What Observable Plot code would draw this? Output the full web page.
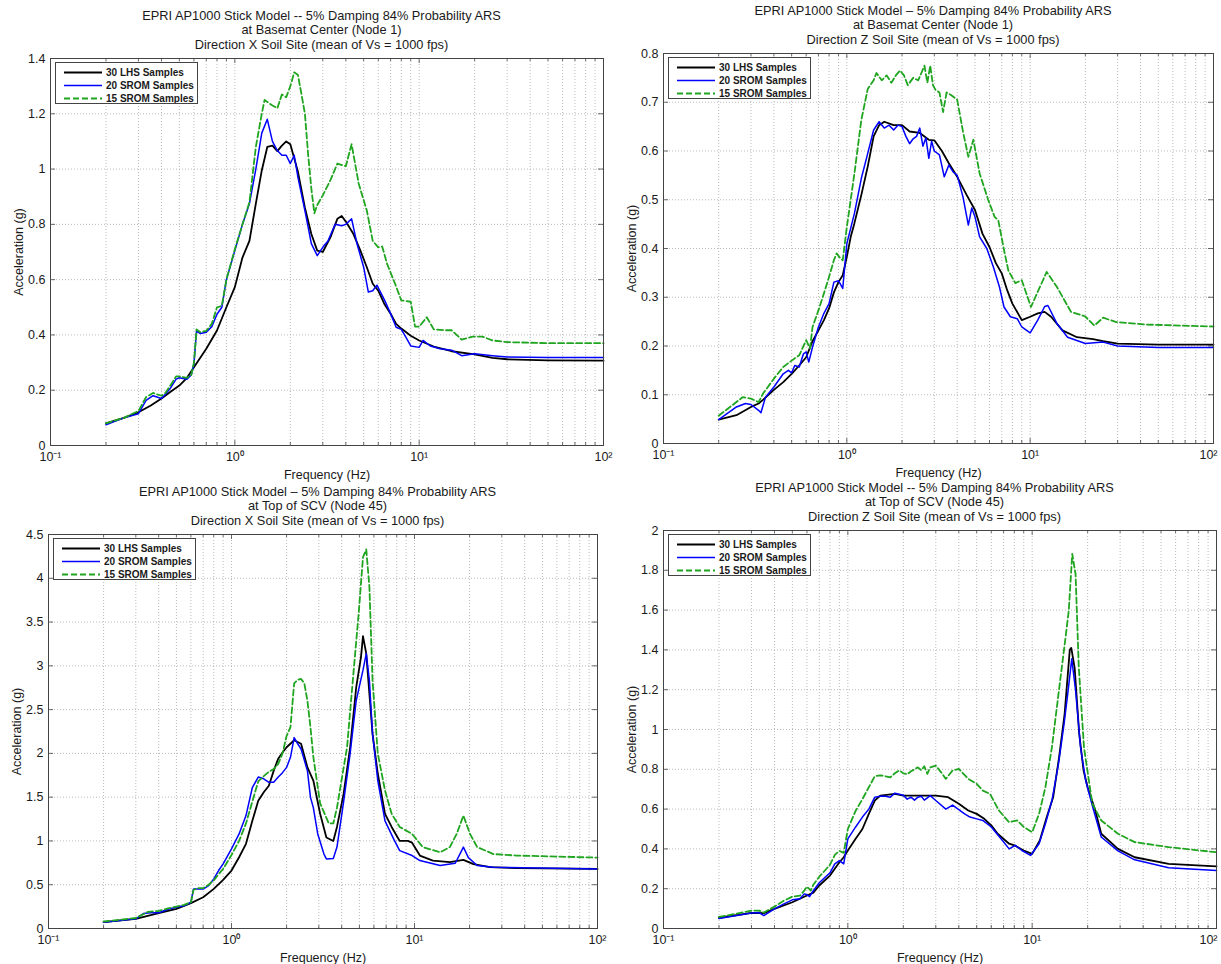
<!DOCTYPE html>
<html><head><meta charset="utf-8">
<script src="https://cdn.jsdelivr.net/npm/d3@7"></script>
<script src="https://cdn.jsdelivr.net/npm/@observablehq/plot@0.6"></script>
<style>
body{margin:0;background:#fff;font-family:"Liberation Sans",Arial,sans-serif;}
#root{position:relative;width:1221px;height:964px;overflow:hidden;background:#fff;}
.panel{position:absolute;}
.title{position:absolute;text-align:center;font-size:12.8px;line-height:14.4px;color:#1a1a1a;white-space:nowrap;transform:translateX(-50%);}
.legend{position:absolute;background:#fff;border:1px solid #444;box-sizing:border-box;}
</style></head><body><div id="root"></div>
<script>
// ---------- shared axis data ----------
const seriesNames = ["30 LHS Samples", "20 SROM Samples", "15 SROM Samples"];
const xMajor = [0.1, 1, 10, 100];
const xMajorLabels = ["10\u207B\u00B9", "10\u2070", "10\u00B9", "10\u00B2"];
const xMinor = [0.2,0.3,0.4,0.5,0.6,0.7,0.8,0.9,2,3,4,5,6,7,8,9,20,30,40,50,60,70,80,90];
const tlTicksY = [0,0.2,0.4,0.6,0.8,1,1.2,1.4];
const trTicksY = [0,0.1,0.2,0.3,0.4,0.5,0.6,0.7,0.8];
const blTicksY = [0,0.5,1,1.5,2,2.5,3,3.5,4,4.5];
const brTicksY = [0,0.2,0.4,0.6,0.8,1,1.2,1.4,1.6,1.8,2];

const tlTitle = ["EPRI AP1000 Stick Model -- 5% Damping 84% Probability ARS","at Basemat Center (Node 1)","Direction X Soil Site (mean of Vs = 1000 fps)"];
const trTitle = ["EPRI AP1000 Stick Model \u2013 5% Damping 84% Probability ARS","at Basemat Center (Node 1)","Direction Z Soil Site (mean of Vs = 1000 fps)"];
const blTitle = ["EPRI AP1000 Stick Model \u2013 5% Damping 84% Probability ARS","at Top of SCV (Node 45)","Direction X Soil Site (mean of Vs = 1000 fps)"];
const brTitle = ["EPRI AP1000 Stick Model -- 5% Damping 84% Probability ARS","at Top of SCV (Node 45)","Direction Z Soil Site (mean of Vs = 1000 fps)"];

// ---------- Top-left: Basemat Center, Direction X ----------
const tlLhs = [[0.2,0.08],[0.25,0.1],[0.3,0.12],[0.35,0.145],[0.4,0.17],[0.45,0.195],[0.5,0.217],[0.55,0.245],[0.6,0.283],[0.7,0.35],[0.8,0.416],[0.9,0.5],[1.0,0.573],[1.1,0.68],[1.2,0.74],[1.3,0.875],[1.4,0.995],[1.5,1.08],[1.6,1.085],[1.7,1.065],[1.8,1.085],[1.9,1.1],[2.0,1.09],[2.2,0.99],[2.4,0.86],[2.6,0.765],[2.8,0.705],[3.0,0.70],[3.3,0.753],[3.6,0.82],[3.8,0.83],[4.0,0.81],[4.4,0.765],[4.8,0.705],[5.2,0.645],[5.6,0.585],[6.0,0.56],[6.5,0.51],[7.0,0.477],[7.5,0.44],[8,0.423],[9,0.397],[10,0.38],[12,0.358],[15,0.341],[20,0.33],[25,0.317],[30,0.312],[50,0.308],[100,0.307]];
const tlSrom20 = [[0.2,0.075],[0.25,0.1],[0.3,0.115],[0.33,0.163],[0.36,0.18],[0.4,0.17],[0.42,0.185],[0.45,0.21],[0.48,0.24],[0.5,0.245],[0.55,0.24],[0.58,0.255],[0.6,0.295],[0.62,0.415],[0.65,0.405],[0.7,0.41],[0.75,0.43],[0.8,0.475],[0.85,0.5],[0.9,0.6],[1.0,0.705],[1.1,0.8],[1.2,0.875],[1.3,1.0],[1.4,1.13],[1.5,1.18],[1.6,1.1],[1.7,1.067],[1.8,1.05],[1.9,1.05],[2.0,1.02],[2.1,1.05],[2.2,0.97],[2.4,0.85],[2.6,0.73],[2.8,0.687],[3.0,0.717],[3.2,0.74],[3.5,0.80],[3.8,0.795],[4.0,0.80],[4.3,0.82],[4.6,0.73],[5.0,0.645],[5.3,0.555],[5.6,0.56],[5.9,0.58],[6.5,0.525],[7,0.477],[7.5,0.428],[8,0.42],[8.5,0.39],[9,0.36],[10,0.355],[10.5,0.38],[11.5,0.36],[13,0.35],[15,0.345],[17,0.325],[20,0.332],[25,0.325],[30,0.32],[50,0.318],[100,0.318]];
const tlSrom15 = [[0.2,0.08],[0.25,0.1],[0.3,0.125],[0.33,0.175],[0.36,0.19],[0.4,0.18],[0.42,0.19],[0.45,0.22],[0.48,0.25],[0.5,0.25],[0.55,0.245],[0.58,0.255],[0.6,0.3],[0.62,0.42],[0.65,0.41],[0.7,0.415],[0.75,0.44],[0.8,0.5],[0.85,0.505],[0.9,0.6],[1.0,0.71],[1.1,0.8],[1.2,0.88],[1.3,1.08],[1.4,1.2],[1.45,1.25],[1.6,1.23],[1.7,1.22],[1.8,1.27],[1.9,1.26],[2.0,1.3],[2.1,1.35],[2.2,1.34],[2.3,1.27],[2.4,1.2],[2.5,1.05],[2.6,0.93],[2.7,0.84],[2.8,0.87],[3.0,0.905],[3.3,0.96],[3.6,1.02],[4.0,1.01],[4.3,1.09],[4.7,0.947],[5.2,0.85],[5.6,0.74],[6.0,0.717],[6.3,0.72],[6.7,0.657],[7.4,0.585],[8,0.525],[9,0.52],[9.5,0.43],[10,0.43],[11,0.464],[12,0.42],[13.5,0.417],[15,0.417],[17,0.383],[19.5,0.394],[22,0.394],[25,0.38],[30,0.374],[50,0.37],[100,0.37]];

// ---------- Top-right: Basemat Center, Direction Z ----------
const trLhs = [[0.2,0.049],[0.25,0.058],[0.3,0.075],[0.33,0.082],[0.35,0.09],[0.4,0.11],[0.45,0.126],[0.5,0.143],[0.55,0.16],[0.6,0.177],[0.65,0.21],[0.7,0.232],[0.75,0.253],[0.8,0.277],[0.85,0.31],[0.9,0.331],[0.95,0.345],[1.0,0.383],[1.05,0.424],[1.1,0.452],[1.2,0.51],[1.3,0.568],[1.4,0.63],[1.5,0.653],[1.6,0.66],[1.8,0.653],[2.0,0.653],[2.2,0.64],[2.5,0.637],[2.8,0.623],[3.0,0.622],[3.3,0.60],[3.6,0.575],[4.0,0.547],[4.5,0.51],[5.0,0.479],[5.5,0.43],[6,0.403],[6.5,0.37],[7,0.349],[7.5,0.314],[8,0.287],[9,0.253],[10,0.26],[11,0.267],[12,0.27],[13,0.26],[15,0.232],[18,0.218],[22,0.214],[25,0.21],[30,0.205],[50,0.203],[100,0.203]];
const trSrom20 = [[0.2,0.049],[0.25,0.075],[0.28,0.082],[0.3,0.08],[0.33,0.068],[0.34,0.063],[0.36,0.095],[0.4,0.116],[0.45,0.143],[0.48,0.15],[0.5,0.145],[0.52,0.16],[0.55,0.157],[0.58,0.184],[0.6,0.188],[0.62,0.167],[0.65,0.198],[0.7,0.239],[0.75,0.267],[0.8,0.287],[0.85,0.331],[0.9,0.334],[0.95,0.318],[1.0,0.41],[1.1,0.472],[1.2,0.544],[1.3,0.595],[1.4,0.643],[1.5,0.66],[1.6,0.647],[1.7,0.653],[1.8,0.643],[1.9,0.653],[2.0,0.65],[2.1,0.63],[2.2,0.615],[2.3,0.625],[2.4,0.63],[2.5,0.647],[2.6,0.61],[2.7,0.627],[2.8,0.585],[2.9,0.62],[3.0,0.60],[3.2,0.592],[3.4,0.547],[3.6,0.571],[3.8,0.557],[4.0,0.55],[4.3,0.506],[4.6,0.448],[4.8,0.483],[5.0,0.465],[5.3,0.424],[5.8,0.40],[6.3,0.362],[6.8,0.321],[7.2,0.28],[7.8,0.26],[8.5,0.256],[9,0.239],[10,0.227],[11,0.253],[12,0.281],[12.5,0.283],[14,0.246],[16,0.218],[20,0.205],[25,0.208],[30,0.2],[50,0.197],[100,0.197]];
const trSrom15 = [[0.2,0.057],[0.25,0.085],[0.27,0.095],[0.3,0.092],[0.33,0.085],[0.35,0.103],[0.4,0.133],[0.45,0.157],[0.5,0.17],[0.55,0.181],[0.6,0.212],[0.63,0.195],[0.65,0.239],[0.7,0.273],[0.75,0.308],[0.8,0.342],[0.85,0.376],[0.88,0.39],[0.92,0.38],[0.95,0.376],[1.0,0.444],[1.1,0.554],[1.2,0.664],[1.3,0.727],[1.4,0.745],[1.45,0.76],[1.55,0.745],[1.65,0.755],[1.75,0.74],[1.85,0.755],[1.95,0.765],[2.05,0.755],[2.15,0.735],[2.3,0.75],[2.45,0.745],[2.55,0.76],[2.65,0.775],[2.75,0.74],[2.85,0.775],[2.95,0.735],[3.05,0.725],[3.2,0.72],[3.35,0.68],[3.5,0.72],[3.7,0.715],[4.0,0.705],[4.3,0.64],[4.6,0.588],[4.9,0.623],[5.3,0.554],[5.9,0.5],[6.4,0.465],[6.7,0.458],[7.2,0.397],[7.6,0.355],[8.3,0.329],[9.0,0.335],[10.1,0.28],[12.3,0.352],[14,0.321],[16.7,0.27],[19.9,0.261],[22.4,0.242],[25,0.258],[29.5,0.249],[43,0.244],[100,0.24]];

// ---------- Bottom-left: Top of SCV, Direction X ----------
const blLhs = [[0.2,0.072],[0.3,0.11],[0.4,0.175],[0.5,0.225],[0.6,0.29],[0.7,0.357],[0.8,0.453],[0.9,0.556],[1.0,0.662],[1.1,0.814],[1.2,0.967],[1.3,1.23],[1.4,1.46],[1.5,1.556],[1.6,1.63],[1.7,1.80],[1.8,1.94],[1.9,2.01],[2.0,2.07],[2.2,2.15],[2.4,2.11],[2.6,1.84],[2.8,1.69],[3.05,1.31],[3.3,1.04],[3.6,1.0],[3.77,1.16],[4.1,1.54],[4.45,2.07],[4.8,2.75],[5.1,3.1],[5.23,3.34],[5.45,3.14],[5.67,2.68],[5.9,2.22],[6.3,1.77],[6.9,1.31],[7.5,1.16],[8.3,1.0],[9.2,1.0],[9.7,0.98],[10.7,0.833],[12.6,0.776],[15.6,0.757],[18.5,0.784],[21,0.735],[25.8,0.70],[36,0.69],[100,0.68]];
const blSrom20 = [[0.2,0.07],[0.3,0.11],[0.33,0.17],[0.36,0.18],[0.4,0.18],[0.45,0.22],[0.5,0.243],[0.55,0.26],[0.6,0.30],[0.62,0.45],[0.65,0.45],[0.7,0.45],[0.75,0.49],[0.8,0.567],[0.85,0.662],[0.9,0.738],[1.0,0.91],[1.1,1.08],[1.2,1.29],[1.3,1.61],[1.4,1.73],[1.5,1.71],[1.6,1.67],[1.7,1.67],[1.8,1.73],[1.9,1.78],[2.0,1.84],[2.1,1.955],[2.2,2.18],[2.3,2.11],[2.4,2.05],[2.6,1.80],[2.7,1.5],[2.8,1.38],[2.96,1.08],[3.2,0.85],[3.3,0.795],[3.6,0.80],[3.77,0.93],[4.1,1.45],[4.45,2.0],[4.8,2.6],[5.23,2.95],[5.45,3.14],[5.67,2.83],[5.9,2.22],[6.3,1.69],[6.9,1.23],[7.7,1.02],[8.3,0.89],[9.7,0.833],[10.1,0.81],[10.7,0.776],[13.8,0.72],[16.7,0.745],[18.5,0.93],[19.7,0.81],[22,0.72],[27,0.70],[100,0.68]];
const blSrom15 = [[0.2,0.08],[0.3,0.12],[0.35,0.19],[0.4,0.2],[0.45,0.23],[0.5,0.25],[0.55,0.27],[0.6,0.3],[0.62,0.44],[0.65,0.46],[0.7,0.46],[0.75,0.5],[0.8,0.55],[0.85,0.62],[0.9,0.68],[1.0,0.84],[1.1,1.0],[1.2,1.2],[1.3,1.45],[1.4,1.68],[1.5,1.74],[1.6,1.79],[1.7,1.82],[1.8,1.88],[1.9,2.0],[2.0,2.2],[2.1,2.3],[2.2,2.8],[2.3,2.84],[2.4,2.85],[2.5,2.8],[2.6,2.6],[2.7,2.3],[2.8,1.96],[3.05,1.43],[3.4,1.2],[3.6,1.2],[3.77,1.38],[4.28,2.07],[4.6,2.83],[4.95,3.59],[5.23,4.24],[5.45,4.33],[5.67,3.9],[5.9,2.83],[6.3,2.0],[6.9,1.575],[7.5,1.31],[8.3,1.16],[9.7,1.08],[11.1,0.93],[13.8,0.87],[15.6,0.93],[17,1.08],[18.5,1.29],[20.1,1.08],[22,0.93],[27,0.85],[36,0.833],[100,0.81]];

// ---------- Bottom-right: Top of SCV, Direction Z ----------
const brLhs = [[0.2,0.054],[0.3,0.079],[0.35,0.077],[0.4,0.099],[0.5,0.132],[0.6,0.166],[0.65,0.18],[0.7,0.216],[0.8,0.266],[0.9,0.333],[0.95,0.358],[1.0,0.392],[1.1,0.45],[1.2,0.50],[1.3,0.576],[1.4,0.643],[1.5,0.668],[1.8,0.677],[2.0,0.668],[2.5,0.668],[3,0.668],[3.5,0.66],[4,0.627],[4.5,0.593],[5,0.576],[5.5,0.551],[6,0.518],[6.5,0.476],[7,0.45],[7.5,0.426],[8,0.418],[9,0.392],[10,0.375],[11,0.442],[12,0.56],[13,0.66],[14,0.861],[15,1.079],[16,1.40],[16.3,1.41],[17,1.31],[18,0.978],[19,0.794],[20,0.71],[22,0.593],[23.7,0.476],[29.2,0.40],[36,0.358],[55,0.325],[100,0.312]];
const brSrom20 = [[0.2,0.05],[0.25,0.065],[0.3,0.078],[0.33,0.08],[0.35,0.065],[0.4,0.099],[0.45,0.124],[0.5,0.144],[0.55,0.15],[0.58,0.174],[0.6,0.17],[0.62,0.16],[0.65,0.19],[0.7,0.23],[0.8,0.28],[0.85,0.325],[0.9,0.341],[0.95,0.325],[1.0,0.45],[1.1,0.509],[1.2,0.56],[1.3,0.6],[1.4,0.66],[1.5,0.665],[1.6,0.665],[1.7,0.66],[1.8,0.68],[1.9,0.675],[2.0,0.67],[2.1,0.65],[2.2,0.66],[2.3,0.645],[2.4,0.66],[2.5,0.665],[2.6,0.645],[2.8,0.668],[3.0,0.643],[3.4,0.60],[3.7,0.62],[4.3,0.576],[4.6,0.56],[5,0.551],[5.4,0.543],[6,0.51],[6.9,0.442],[7.5,0.4],[8.1,0.418],[8.8,0.392],[9.8,0.367],[10.9,0.426],[11.8,0.526],[12.8,0.643],[13.9,0.828],[14.9,1.029],[15.6,1.18],[16.4,1.355],[17.2,1.196],[18.3,0.911],[19.5,0.744],[21.2,0.618],[23.7,0.46],[29.2,0.39],[36,0.345],[55,0.305],[100,0.291]];
const brSrom15 = [[0.2,0.058],[0.25,0.075],[0.3,0.09],[0.33,0.09],[0.35,0.08],[0.4,0.11],[0.45,0.14],[0.5,0.16],[0.55,0.165],[0.58,0.19],[0.6,0.21],[0.63,0.19],[0.65,0.22],[0.7,0.26],[0.8,0.32],[0.85,0.37],[0.9,0.39],[0.95,0.38],[1.0,0.5],[1.1,0.59],[1.2,0.65],[1.3,0.71],[1.4,0.765],[1.5,0.77],[1.6,0.765],[1.7,0.76],[1.8,0.78],[1.9,0.795],[2.0,0.78],[2.1,0.775],[2.2,0.79],[2.3,0.8],[2.4,0.81],[2.5,0.795],[2.6,0.815],[2.7,0.777],[2.8,0.81],[3.0,0.819],[3.2,0.786],[3.4,0.752],[3.7,0.794],[4.0,0.802],[4.5,0.752],[5,0.727],[5.4,0.693],[5.9,0.677],[6.6,0.593],[7.5,0.534],[8.3,0.543],[9,0.51],[10,0.484],[10.9,0.576],[11.8,0.71],[12.8,0.911],[13.9,1.18],[15.1,1.447],[15.8,1.598],[16.5,1.883],[17.2,1.78],[17.9,1.313],[19.1,0.911],[21.2,0.627],[23.7,0.543],[29.2,0.476],[36,0.434],[55,0.409],[100,0.383]];

// ---------- styles ----------
const seriesStyles = [
  {stroke: "#000000", strokeWidth: 1.8, dash: null},
  {stroke: "#0000ff", strokeWidth: 1.5, dash: null},
  {stroke: "#1fa51f", strokeWidth: 1.8, dash: "6,3"}
];
const FONT = "'Liberation Sans', Arial, Helvetica, sans-serif";

const root = document.getElementById("root");

function toRows(points) { return points.map(([f, v]) => ({f, v})); }

function drawPanel(cfg) {
  const {left, top, width, height, mL, mR, mT, mB, yTicks, series, title, lastDx} = cfg;
  const pw = width - mL - mR, ph = height - mT - mB;
  const yMax = yTicks[yTicks.length - 1];
  const gridStyle = {stroke: "#a8a8a8", strokeWidth: 0.8, strokeDasharray: "1,2"};
  const tickStyle = {stroke: "#444", strokeWidth: 0.8};
  const marks = [
    Plot.ruleX(xMinor.concat([1, 10]), gridStyle),
    Plot.ruleY(yTicks.slice(1, -1), gridStyle),
    // inside ticks (bottom/top/left/right), MATLAB style
    Plot.ruleX(xMajor, {...tickStyle, insetTop: ph - 5}),
    Plot.ruleX(xMajor, {...tickStyle, insetBottom: ph - 5}),
    Plot.ruleX(xMinor, {...tickStyle, insetTop: ph - 3}),
    Plot.ruleX(xMinor, {...tickStyle, insetBottom: ph - 3}),
    Plot.ruleY(yTicks, {...tickStyle, insetRight: pw - 5}),
    Plot.ruleY(yTicks, {...tickStyle, insetLeft: pw - 5}),
  ];
  series.forEach((pts, i) => {
    const s = seriesStyles[i];
    marks.push(Plot.line(toRows(pts), {x: "f", y: "v", stroke: s.stroke, strokeWidth: s.strokeWidth,
      strokeDasharray: s.dash || undefined, curve: "linear"}));
  });
  marks.push(Plot.frame({stroke: "#444", strokeWidth: 1}));
  const fmt = d => xMajorLabels[xMajor.indexOf(d)];
  marks.push(Plot.axisX(xMajor.slice(0, 3), {tickSize: 0, tickPadding: 7, fontSize: 12.5, tickFormat: fmt,
    label: "Frequency (Hz)", labelAnchor: "center", labelArrow: "none", labelOffset: 33}));
  marks.push(Plot.axisX(xMajor.slice(3), {tickSize: 0, tickPadding: 7, fontSize: 12.5, tickFormat: fmt,
    label: null, dx: lastDx}));
  marks.push(Plot.axisY(yTicks, {tickSize: 0, tickPadding: 5, fontSize: 12.5,
    tickFormat: d => String(d),
    label: "Acceleration (g)", labelAnchor: "center", labelArrow: "none", labelOffset: 36}));
  const chart = Plot.plot({
    width, height, marginLeft: mL, marginRight: mR, marginTop: mT, marginBottom: mB,
    style: {fontFamily: FONT, fontSize: "12px", background: "transparent", overflow: "visible", color: "#1a1a1a"},
    x: {type: "log", domain: [0.1, 100]},
    y: {domain: [0, yMax]},
    marks
  });
  const wrap = document.createElement("div");
  wrap.className = "panel";
  wrap.style.left = left + "px"; wrap.style.top = top + "px";
  wrap.appendChild(chart);
  root.appendChild(wrap);

  // title (3 lines) centred over the axes
  const t = document.createElement("div");
  t.className = "title";
  t.style.left = (left + mL + pw / 2 - 5) + "px";
  t.style.top = (top + mT - 49) + "px";
  t.style.fontFamily = FONT;
  t.innerHTML = title.map(s => s.replace(/&/g, "&amp;").replace(/</g, "&lt;")).join("<br>");
  root.appendChild(t);

  // legend box (top-left inside the axes)
  const lg = document.createElement("div");
  lg.className = "legend";
  const lw = 143, lh = 42;
  lg.style.left = (left + mL + 5) + "px";
  lg.style.top = (top + mT + 4) + "px";
  lg.style.width = lw + "px"; lg.style.height = lh + "px";
  const rows = seriesNames.map((n, i) => {
    const s = seriesStyles[i];
    const y = 9.5 + i * 13;
    return `<line x1="8" x2="46" y1="${y}" y2="${y}" stroke="${s.stroke}" stroke-width="${s.strokeWidth}" ${s.dash ? `stroke-dasharray="${s.dash}"` : ""}/>` +
      `<text x="50" y="${y}" dy="0.35em" font-size="10" font-weight="bold" fill="#1a1a1a" font-family="${FONT.replace(/'/g, "")}">${n}</text>`;
  }).join("");
  lg.innerHTML = `<svg width="${lw - 2}" height="${lh - 2}" style="display:block">${rows}</svg>`;
  root.appendChild(lg);
}

drawPanel({left: 0, top: 50, width: 610, height: 435, mL: 50, mR: 7, mT: 8, mB: 40, lastDx: 0,
  yTicks: tlTicksY, series: [tlLhs, tlSrom20, tlSrom15], title: tlTitle});
drawPanel({left: 610, top: 44, width: 611, height: 435, mL: 53, mR: 8, mT: 9, mB: 36, lastDx: -5,
  yTicks: trTicksY, series: [trLhs, trSrom20, trSrom15], title: trTitle});
drawPanel({left: 0, top: 524, width: 610, height: 440, mL: 48, mR: 13, mT: 10, mB: 36, lastDx: 0,
  yTicks: blTicksY, series: [blLhs, blSrom20, blSrom15], title: blTitle});
drawPanel({left: 610, top: 520, width: 611, height: 444, mL: 53, mR: 5, mT: 10, mB: 36, lastDx: -8,
  yTicks: brTicksY, series: [brLhs, brSrom20, brSrom15], title: brTitle});
</script></body></html>
